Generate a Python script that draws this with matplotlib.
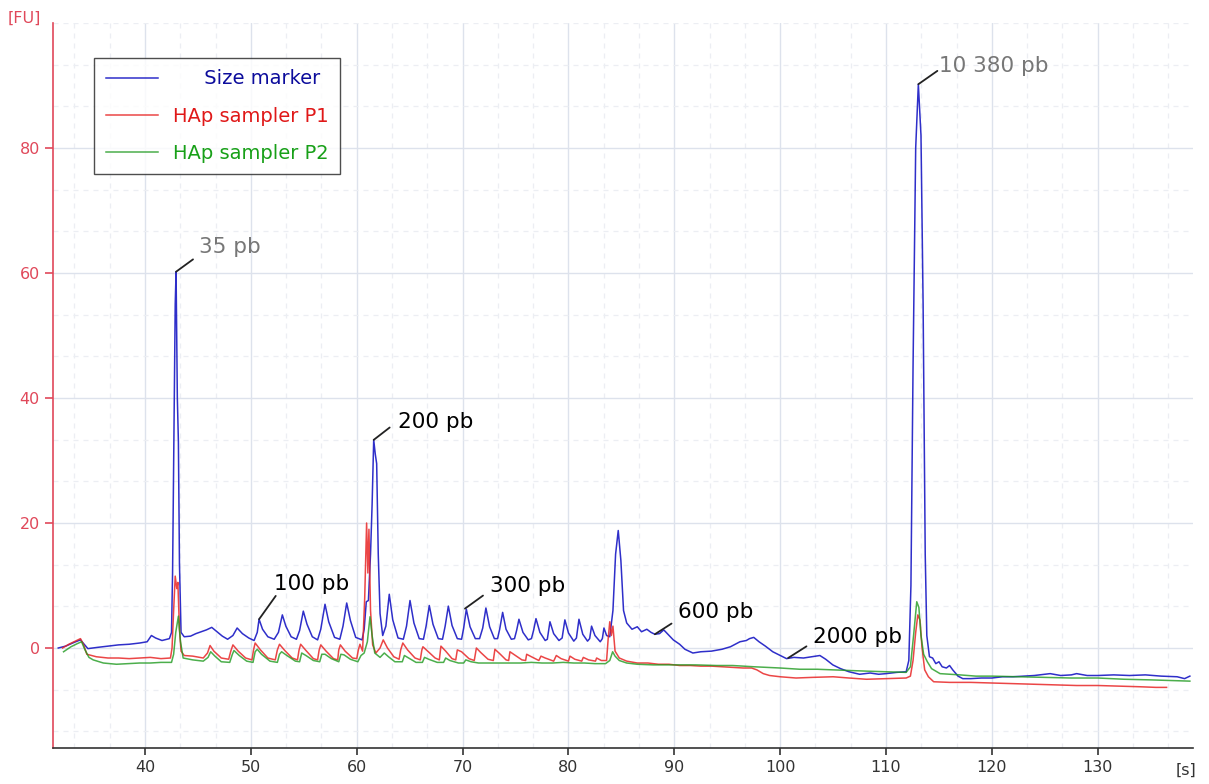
import matplotlib
matplotlib.use("Agg")
import matplotlib.pyplot as plt
from matplotlib.ticker import MultipleLocator

# Electropherogram traces: migration time [s] and fluorescence [FU]
marker_t = [31.8, 32.5, 33.3, 33.9, 34.3, 34.6, 35.5, 36.5, 37.5, 38.5, 39.5, 40.2, 40.6, 41.0, 41.6,
            42.3, 42.5, 42.6, 42.75, 42.85, 42.93, 43.05, 43.15, 43.25, 43.4, 43.7, 44.3, 44.8, 45.3,
            45.8, 46.3, 46.8, 47.3, 47.8, 48.3, 48.7, 49.2, 49.8, 50.3, 50.6, 50.77, 51.1, 51.6, 52.2,
            52.6, 52.97, 53.3, 53.8, 54.3, 54.6, 54.95, 55.3, 55.8, 56.3, 56.6, 57.0, 57.35, 57.9, 58.4,
            58.7, 59.05, 59.4, 59.9, 60.5, 60.7, 60.9, 61.1, 61.3, 61.45, 61.6, 61.75, 61.88, 62.03,
            62.2, 62.45, 62.75, 63.07, 63.4, 63.9, 64.4, 64.7, 65.03, 65.4, 65.9, 66.3, 66.55, 66.85,
            67.2, 67.7, 68.1, 68.35, 68.65, 69.0, 69.5, 69.9, 70.1, 70.35, 70.7, 71.2, 71.6, 71.9, 72.2,
            72.55, 73.0, 73.3, 73.5, 73.78, 74.1, 74.6, 74.9, 75.1, 75.32, 75.7, 76.2, 76.5, 76.7, 76.93,
            77.3, 77.8, 78.0, 78.25, 78.6, 79.1, 79.4, 79.66, 80.0, 80.5, 80.75, 80.99, 81.35, 81.8,
            82.0, 82.18, 82.5, 83.0, 83.2, 83.35, 83.6, 83.9, 84.2, 84.45, 84.7, 84.95, 85.2, 85.5, 86.0,
            86.5, 86.9, 87.4, 87.8, 88.16, 88.6, 89.0, 89.4, 89.9, 90.5, 91.0, 91.75, 92.5, 93.5, 94.5,
            95.3, 96.2, 96.8, 97.1, 97.5, 98.0, 98.6, 99.3, 100.0, 100.6, 101.3, 102.2, 103.0, 103.75,
            104.3, 104.97, 105.7, 106.5, 107.5, 108.5, 109.3, 110.0, 111.0, 111.9, 112.15, 112.35,
            112.55, 112.8, 113.05, 113.3, 113.5, 113.7, 113.85, 114.1, 114.4, 114.7, 115.0, 115.3,
            115.7, 116.0, 116.3, 116.8, 117.25, 118.0, 119.0, 120.0, 121.0, 122.0, 123.0, 124.0, 125.0,
            125.5, 126.5, 127.5, 128.0, 129.0, 130.0, 131.5, 133.0, 134.5, 136.0, 137.5, 138.2, 138.7]
marker_fu = [0.0, 0.3, 0.9, 1.3, 0.5, -0.1, 0.1, 0.3, 0.5, 0.6, 0.8, 1.0, 2.0, 1.6, 1.2,
             1.5, 2.5, 12, 38, 55, 60.2, 40, 33, 13.5, 2.5, 1.8, 1.9, 2.3, 2.6,
             2.9, 3.3, 2.6, 1.9, 1.4, 2.0, 3.2, 2.3, 1.6, 1.2, 2.5, 4.6, 3.0, 1.8, 1.4,
             2.5, 5.3, 3.5, 1.8, 1.4, 2.8, 5.9, 3.8, 1.8, 1.3, 3.0, 7.0, 4.2, 1.7, 1.4,
             3.5, 7.2, 4.4, 1.7, 1.3, 3.0, 7.4, 7.6, 15, 23, 33.3, 31, 29.5, 15,
             5.5, 2.0, 3.5, 8.6, 4.5, 1.6, 1.4, 3.5, 7.6, 4.0, 1.5, 1.4, 3.5, 6.8,
             3.8, 1.5, 1.4, 3.5, 6.7, 3.6, 1.5, 1.4, 3.2, 6.2, 3.4, 1.5, 1.5, 3.2, 6.4,
             3.4, 1.5, 1.5, 3.0, 5.7, 3.0, 1.4, 1.5, 2.8, 4.6, 2.5, 1.3, 1.5, 2.8, 4.7,
             2.5, 1.2, 1.4, 4.2, 2.3, 1.2, 1.6, 4.5, 2.4, 1.1, 1.6, 4.6, 2.2, 1.1,
             1.5, 3.5, 2.0, 1.0, 1.5, 3.2, 2.0, 1.8, 6, 15, 18.8, 14, 6, 4.0, 3.0,
             3.4, 2.6, 3.0, 2.5, 2.2, 2.3, 2.9, 2.2, 1.3, 0.6, -0.2, -0.8, -0.6, -0.5, -0.2,
             0.2, 1.0, 1.2, 1.5, 1.7, 1.0, 0.3, -0.6, -1.2, -1.7, -1.5, -1.6, -1.4, -1.2,
             -1.8, -2.7, -3.3, -3.8, -4.2, -4.0, -4.2, -4.1, -3.9, -3.8, -2.0, 10,
             45, 80, 90.2, 82, 55, 15, 2.0, -1.4, -1.6, -2.5, -2.2, -3.0,
             -3.2, -2.8, -3.5, -4.5, -4.9, -4.9, -4.8, -4.8, -4.6, -4.6, -4.5, -4.4, -4.2,
             -4.1, -4.4, -4.3, -4.1, -4.4, -4.4, -4.3, -4.4, -4.3, -4.5, -4.6, -4.9, -4.5]

p1_t = [32.2, 32.8, 33.4, 33.9, 34.2, 34.5, 35.4, 36.5, 37.5, 38.5, 39.5, 40.5, 41.5, 42.4, 42.55,
        42.7, 42.85, 43.0, 43.1, 43.25, 43.4, 43.7, 44.5, 45.5, 45.9, 46.14, 46.5, 47.2, 47.9, 48.1,
        48.3, 48.8, 49.5, 50.1, 50.25, 50.4, 50.9, 51.6, 52.3, 52.5, 52.7, 53.2, 53.9, 54.4, 54.55,
        54.7, 55.2, 55.9, 56.3, 56.45, 56.6, 57.1, 57.8, 58.2, 58.3, 58.45, 58.9, 59.6, 60.0, 60.15,
        60.3, 60.55, 60.75, 60.93, 61.05, 61.15, 61.3, 61.5, 61.8, 62.2, 62.5, 62.9, 63.5, 64.0,
        64.15, 64.35, 64.8, 65.5, 66.0, 66.15, 66.25, 66.7, 67.4, 67.8, 67.95, 68.4, 69.0, 69.35,
        69.5, 69.9, 70.6, 71.1, 71.3, 71.7, 72.4, 72.9, 73.05, 73.5, 74.1, 74.35, 74.47, 74.9, 75.6,
        75.95, 76.05, 76.5, 77.2, 77.4, 77.8, 78.6, 78.85, 79.3, 80.0, 80.14, 80.6, 81.25, 81.4,
        81.9, 82.55, 82.66, 83.1, 83.6, 83.75, 83.9, 84.05, 84.2, 84.4, 84.8, 85.5, 86.5, 87.5,
        88.5, 89.5, 90.5, 91.5, 92.5, 93.5, 94.5, 95.5, 96.5, 97.3, 97.8, 98.4, 99.0, 100.0, 101.5,
        103.0, 105.0, 106.5, 108.15, 110.0, 111.9, 112.3, 112.55, 112.8, 113.0, 113.2, 113.4,
        113.65, 114.0, 114.5, 116.0, 118.0, 120.0, 122.0, 124.0, 126.0, 128.0, 130.0, 132.0,
        134.0, 135.5, 136.5]
p1_fu = [0.0, 0.6, 1.1, 1.5, 0.5, -1.0, -1.4, -1.6, -1.6, -1.7, -1.6, -1.5, -1.7, -1.6, 0,
         6, 11.5, 9.5, 10.5, 3, -0.5, -1.2, -1.3, -1.6, -0.8, 0.4, -0.5, -1.6, -1.8, -0.5,
         0.5, -0.5, -1.6, -1.9, -0.3, 0.8, -0.3, -1.6, -1.9, -0.3, 0.6, -0.4, -1.6, -1.9, -0.3,
         0.6, -0.4, -1.7, -1.9, -0.3, 0.5, -0.5, -1.7, -1.9, -0.3, 0.5, -0.5, -1.6, -1.7, -0.3,
         0.6, -0.5, 8, 20, 12, 19, 6, 0.5, -0.8, 0.0, 1.3, 0.0, -1.4, -1.8,
         -0.3, 0.8, -0.3, -1.6, -1.9, -0.3, 0.2, -0.5, -1.6, -1.9, 0.3, -0.5, -1.7, -1.9,
         -0.3, -0.6, -1.7, -2.0, 0.0, -0.7, -1.8, -2.0, -0.2, -0.9, -1.9, -2.0, -0.6, -1.1, -1.9,
         -2.0, -1.0, -1.4, -2.0, -1.3, -1.6, -2.1, -1.2, -1.7, -2.1, -1.3, -1.8, -2.1, -1.5,
         -1.9, -2.1, -1.6, -2.0, -2.0, 1.5, 4.2, 2.0, 3.5, -0.5, -1.6, -2.1, -2.4, -2.4,
         -2.6, -2.6, -2.8, -2.8, -2.9, -2.9, -3.0, -3.1, -3.2, -3.2, -3.5, -4.1, -4.4, -4.6, -4.8,
         -4.7, -4.6, -4.8, -5.0, -4.9, -4.8, -4.5, -2.0, 2.5, 5.3, 4.5, 0.0,
         -3.5, -4.6, -5.4, -5.5, -5.5, -5.6, -5.7, -5.8, -5.9, -6.0, -6.0, -6.1,
         -6.2, -6.3, -6.3]

p2_t = [32.3, 33.0, 33.6, 34.0, 34.3, 34.7, 35.1, 36.06, 37.3, 38.5, 39.5, 40.5, 41.5, 42.5, 42.7,
        42.9, 43.15, 43.35, 43.6, 44.5, 45.5, 45.95, 46.2, 46.6, 47.2, 48.0, 48.25, 48.4, 48.9,
        49.6, 50.2, 50.4, 50.6, 51.0, 51.8, 52.5, 52.7, 52.9, 53.4, 54.2, 54.6, 54.8, 55.2, 55.9,
        56.5, 56.7, 57.0, 57.6, 58.3, 58.5, 58.8, 59.4, 60.1, 60.4, 60.7, 61.0, 61.25, 61.45, 61.7,
        62.2, 62.6, 63.0, 63.6, 64.3, 64.5, 64.9, 65.6, 66.2, 66.4, 66.8, 67.6, 68.2, 68.4, 68.8,
        69.6, 70.1, 70.3, 70.8, 71.5, 72.5, 73.5, 74.5, 75.5, 76.5, 77.5, 78.5, 79.5, 80.5, 81.5,
        82.5, 83.5, 83.9, 84.17, 84.4, 84.8, 85.5, 86.5, 88.0, 90.0, 92.0, 94.0, 95.5, 96.5, 97.5,
        98.7, 100.0, 101.85, 103.5, 105.0, 106.5, 108.15, 110.0, 111.9, 112.3, 112.6, 112.9,
        113.1, 113.3, 113.55, 113.9, 114.3, 115.1, 116.0, 116.97, 118.5, 120.0, 122.5, 125.0,
        127.5, 130.0, 132.5, 135.0, 137.0, 138.7]
p2_fu = [-0.6, 0.2, 0.7, 1.0, -0.2, -1.5, -1.9, -2.4, -2.6, -2.5, -2.4, -2.4, -2.3, -2.3, -1.0,
         2.5, 5.1, 1.0, -1.6, -1.9, -2.1, -1.5, -0.6, -1.3, -2.2, -2.3, -1.0, -0.4, -1.2,
         -2.1, -2.3, -0.6, -0.2, -1.0, -2.1, -2.3, -1.0, -0.6, -1.2, -2.1, -2.2, -0.8, -1.2, -2.0,
         -2.2, -1.0, -1.0, -1.7, -2.2, -1.0, -1.1, -1.8, -2.2, -1.2, -0.8, 1.0, 5.0, 2.0, -0.8,
         -1.5, -0.8, -1.4, -2.2, -2.2, -1.2, -1.6, -2.3, -2.3, -1.5, -1.8, -2.3, -2.3, -1.6, -2.0,
         -2.4, -2.4, -1.9, -2.2, -2.4, -2.4, -2.4, -2.4, -2.4, -2.3, -2.4, -2.4, -2.3, -2.4, -2.4,
         -2.5, -2.5, -2.0, -0.6, -1.3, -2.0, -2.4, -2.6, -2.7, -2.7, -2.7, -2.8, -2.8, -2.9, -3.0,
         -3.1, -3.2, -3.4, -3.4, -3.5, -3.6, -3.7, -3.8, -3.9, -3.0, 2.0, 7.4,
         6.5, 2.0, -1.0, -2.2, -3.3, -4.1, -4.2, -4.3, -4.5, -4.5, -4.6, -4.7,
         -4.8, -4.8, -5.0, -5.1, -5.2, -5.3]

# size labels on the marker trace
label_text = ["35 pb", "100 pb", "200 pb", "300 pb", "600 pb", "2000 pb", "10 380 pb"]
label_t = [42.93, 50.77, 61.6, 70.22, 88.16, 100.75, 113.05]
label_fu = [60.2, 4.6, 33.3, 6.3, 2.2, -1.6, 90.2]
grey_labels = ["35 pb", "10 380 pb"]

# leader end and text baseline offsets (points) for each label
leader_off = [(12.2, 8.9), (12.0, 16.8), (11.5, 8.9), (13.0, 9.4), (12.0, 7.7), (13.2, 8.4), (13.7, 9.6)]
text_off = [(16.6, 13.2), (10.8, 20.9), (17.5, 8.2), (18.0, 11.8), (16.6, 11.8), (18.0, 10.8), (15.1, 8.7)]

blue = "#1818c4"
red = "#e82626"
green = "#1f9a1f"
axis_red = "#e0485a"

fig = plt.figure(figsize=(12.09, 7.84), dpi=100)
ax = fig.add_axes([0.0438, 0.0459, 0.943, 0.9248])

ax.plot(marker_t, marker_fu, color=blue, lw=1.1, alpha=0.9, label="     Size marker")
ax.plot(p1_t, p1_fu, color=red, lw=1.1, alpha=0.85, label="HAp sampler P1")
ax.plot(p2_t, p2_fu, color=green, lw=1.1, alpha=0.8, label="HAp sampler P2")

for i, txt in enumerate(label_text):
    peak = (label_t[i], label_fu[i])
    col = "#777777" if txt in grey_labels else "black"
    ax.annotate("", xy=peak, xytext=leader_off[i], textcoords="offset points",
                arrowprops=dict(arrowstyle="-", color="#222222", lw=1.3, shrinkA=0, shrinkB=0))
    ax.annotate(txt, xy=peak, xytext=text_off[i], textcoords="offset points",
                fontsize=15.5, color=col, ha="left", va="baseline")

ax.set_xlim(31.3, 139.0)
ax.set_ylim(-16, 100)
ax.xaxis.set_minor_locator(MultipleLocator(10 / 3))
ax.yaxis.set_minor_locator(MultipleLocator(20 / 3))
ax.set_xticks(range(40, 131, 10))
ax.set_yticks(range(0, 81, 20))

ax.grid(True, which="major", color="#dde2ec", lw=1.0)
ax.grid(True, which="minor", color="#eceef3", lw=0.9, ls=(0, (4, 4)))
ax.set_axisbelow(True)

for side in ["top", "right"]:
    ax.spines[side].set_visible(False)
ax.spines["left"].set_color(axis_red)
ax.spines["left"].set_linewidth(1.2)
ax.spines["bottom"].set_color("#333333")
ax.spines["bottom"].set_linewidth(1.2)
ax.tick_params(axis="y", which="major", colors=axis_red, labelsize=11.5, length=6, width=1.2)
ax.tick_params(axis="x", which="major", colors="#333333", labelsize=11.5, length=5, width=1.2)
ax.tick_params(which="minor", length=0)

ax.text(-0.025, 1.007, "[FU]", transform=ax.transAxes, color=axis_red, fontsize=11.5,
        ha="center", va="center")
ax.text(0.994, -0.031, "[s]", transform=ax.transAxes, color="#333333", fontsize=11.5,
        ha="center", va="center")

leg = ax.legend(loc="upper left", bbox_to_anchor=(0.036, 0.952), borderaxespad=0,
                fontsize=14, frameon=True, fancybox=False, edgecolor="#222222",
                handlelength=2.7, handletextpad=0.75, labelspacing=0.93, borderpad=0.6,
                labelcolor=["#0c0c9c", "#e01818", "#18a018"])
leg.get_frame().set_linewidth(1.0)

fig.savefig("out.png", dpi=100)
